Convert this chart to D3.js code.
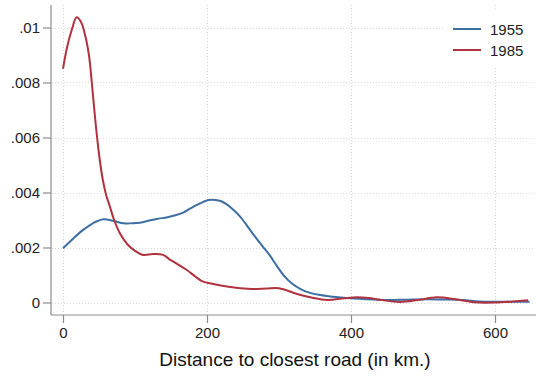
<!DOCTYPE html>
<html><head><meta charset="utf-8">
<script src="https://cdn.jsdelivr.net/npm/d3@7"></script>
<style>
body{margin:0;background:#fff;}
svg{display:block;font-family:"Liberation Sans",Arial,Helvetica,sans-serif;}
</style></head>
<body>
<svg id="c" width="536" height="376"></svg>
<script>
const seriesNames = ["1955", "1985"];
const seriesColors = ["#3d6fa3", "#b0323f"];
const xTicks = [0, 200, 400, 600];
const yTicks = [0, 0.002, 0.004, 0.006, 0.008, 0.01];
const yTickLabels = ["0", ".002", ".004", ".006", ".008", ".01"];
const xTitle = "Distance to closest road (in km.)";

const x1955 = [0,14,28,42,56,70,84,96,107,120,130,145,156,167,177,186,195,202,212,219,228,237,246,256,266,277,287,297,308,318,330,342,357,375,394,420,450,475,503,530,555,578,600,625,648];
const y1955 = [0.00197,0.00232,0.00264,0.00289,0.00303,0.00297,0.00288,0.00288,0.00290,0.00298,0.00304,0.00310,0.00317,0.00327,0.00342,0.00355,0.00366,0.00373,0.00373,0.00369,0.00356,0.00336,0.00312,0.00278,0.00242,0.00205,0.00172,0.00133,0.00094,0.00069,0.00049,0.00036,0.00027,0.00021,0.00016,0.00012,0.00009,0.00010,0.00012,0.00011,0.00009,0.00004,0.00003,0.00003,0.00003];

const x1985 = [0,5,12,19,25,30,36,40,45,50,55,60,65,71,79,90,100,111,125,139,149,160,172,183,193,209,230,246,265,283,300,325,345,367,390,408,425,440,468,495,519,545,570,600,625,646];
const y1985 = [0.00850,0.00920,0.00990,0.01037,0.01020,0.00980,0.00900,0.00800,0.00660,0.00540,0.00450,0.00390,0.00350,0.00300,0.00252,0.00210,0.00188,0.00173,0.00176,0.00173,0.00155,0.00138,0.00118,0.00096,0.00078,0.00067,0.00057,0.00052,0.00049,0.00051,0.00052,0.00031,0.00018,0.00009,0.00015,0.00019,0.00016,0.00010,0.00002,0.00010,0.00019,0.00012,0.00001,0.00000,0.00004,0.00008];

const series = [
  {name: seriesNames[0], color: seriesColors[0], xs: x1955, ys: y1955},
  {name: seriesNames[1], color: seriesColors[1], xs: x1985, ys: y1985}
];

const svg = d3.select("#c");
const pLeft = 51, pRight = 533, pTop = 5, pBottom = 315;
const x = d3.scaleLinear().domain([0, 600]).range([63, 495]);
const y = d3.scaleLinear().domain([0, 0.01]).range([302.5, 27.5]);

// grid
const grid = svg.append("g").attr("stroke", "#d9d9d9").attr("stroke-width", 1).attr("stroke-dasharray", "1,2");
grid.selectAll("line.h").data(yTicks).join("line").attr("class", "h")
  .attr("x1", pLeft + 1).attr("x2", pRight).attr("y1", d => Math.round(y(d)) + 0.5).attr("y2", d => Math.round(y(d)) + 0.5);
grid.selectAll("line.v").data(xTicks).join("line").attr("class", "v")
  .attr("y1", pTop).attr("y2", pBottom - 1).attr("x1", d => Math.round(x(d)) + 0.5).attr("x2", d => Math.round(x(d)) + 0.5);

// axes
const yAxis = d3.axisLeft(y).tickValues(yTicks).tickFormat((d, i) => yTickLabels[i]).tickSize(8).tickPadding(3);
const gy = svg.append("g").attr("transform", `translate(${pLeft},0)`).call(yAxis);
gy.select(".domain").remove();
gy.append("line").attr("x1", 0).attr("x2", 0).attr("y1", pTop).attr("y2", pBottom);
const xAxis = d3.axisBottom(x).tickValues(xTicks).tickFormat(d3.format("d")).tickSize(8).tickPadding(4);
const gx = svg.append("g").attr("transform", `translate(0,${pBottom})`).call(xAxis);
gx.select(".domain").remove();
gx.append("line").attr("x1", pLeft).attr("x2", pRight + 3).attr("y1", 0).attr("y2", 0);
[gx, gy].forEach(g => {
  g.selectAll("line").attr("stroke", "#8c8c8c").attr("stroke-width", 1.2);
  g.selectAll("text").attr("fill", "#222").style("font-size", "15px").style("font-family", '"Liberation Sans",Arial,sans-serif');
});

svg.append("text").attr("x", 295).attr("y", 366).attr("text-anchor", "middle")
  .attr("fill", "#111").style("font-size", "19px").text(xTitle);

// lines
const line = d3.line().x(d => x(d[0])).y(d => y(d[1])).curve(d3.curveCatmullRom.alpha(0.5));
series.forEach(s => {
  svg.append("path").datum(s.xs.map((v, i) => [v, s.ys[i]]))
    .attr("fill", "none").attr("stroke", s.color).attr("stroke-width", 2).attr("d", line);
});

// legend
const lg = svg.append("g");
lg.append("rect").attr("x", 443).attr("y", 11).attr("width", 93).attr("height", 55).attr("fill", "#fff");
series.forEach((s, i) => {
  const yy = 29 + i * 21;
  lg.append("line").attr("x1", 453).attr("x2", 481).attr("y1", yy).attr("y2", yy).attr("stroke", s.color).attr("stroke-width", 2);
  lg.append("text").attr("x", 490).attr("y", yy + 5.5).attr("fill", "#222").style("font-size", "15px").text(s.name);
});
</script>
</body></html>
